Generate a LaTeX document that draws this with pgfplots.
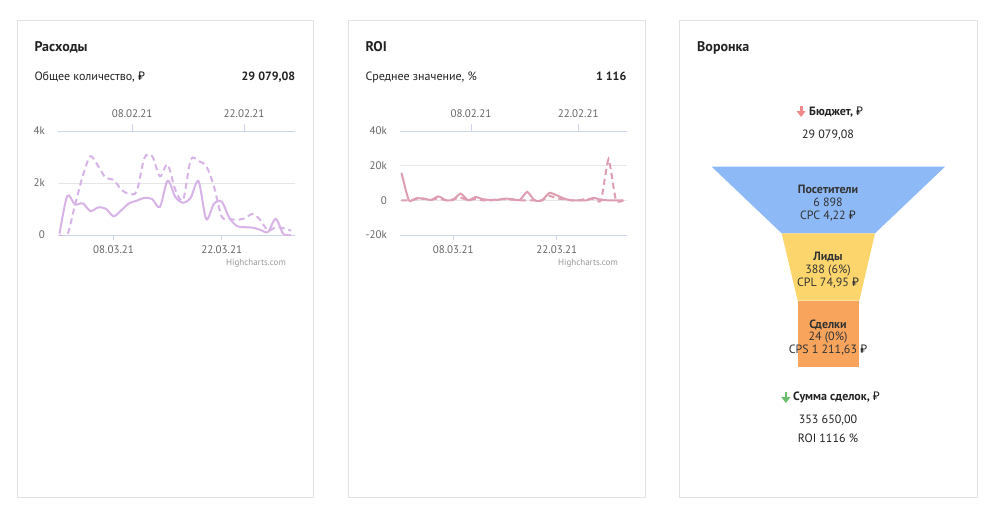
\documentclass[border=0pt]{standalone}
\usepackage{pgfplots}
\usepackage{pgfplotstable}
\pgfplotsset{compat=1.18}
\usepackage{fontspec}
\setmainfont{PT Sans}
\newfontfamily\rubfont{Noto Sans}
\newcommand{\rub}{{\rubfont ₽}}
\newcommand{\fs}[1]{\fontsize{#1}{#1}\selectfont}
\definecolor{cardborder}{HTML}{E3E3E3}
\definecolor{gridc}{HTML}{E6E6E6}
\definecolor{axisc}{HTML}{CCD6EB}
\definecolor{tickc}{HTML}{666666}
\definecolor{credc}{HTML}{999999}
\definecolor{lilac}{HTML}{D7B3E7}
\definecolor{roic}{HTML}{DE9DB0}
\definecolor{fblue}{HTML}{8DB9F7}
\definecolor{fyellow}{HTML}{FCD56C}
\definecolor{forange}{HTML}{F8A45C}
\definecolor{txt}{HTML}{222222}
\definecolor{ftxt}{HTML}{333333}
\definecolor{arrred}{HTML}{F08A8A}
\definecolor{arrgreen}{HTML}{6BBE6B}

% Расходы: текущий период (март) и предыдущий (февраль)
\pgfplotstableread{
d cur prev
0 50 0
1 1500 0
2 1170 1150
3 1220 2260
4 920 3030
5 1060 2650
6 1010 2190
7 720 2130
8 950 1740
9 1220 1590
10 1320 1680
11 1430 2970
12 1380 3030
13 1080 2260
14 2090 2710
15 1460 1740
16 1240 1350
17 1440 2900
18 2070 2840
19 610 2650
20 1200 1870
21 1280 710
22 660 620
23 340 580
24 300 645
25 285 810
26 200 580
27 115 170
28 620 300
29 40 260
30 0 170
}\spendtab

% ROI: текущий и предыдущий период
\pgfplotstableread{
d cur prev
0 15900 0
1 0 0
2 1200 600
3 1000 900
4 200 300
5 2300 1200
6 100 0
7 300 600
8 3900 1500
9 0 0
10 1900 800
11 700 0
12 200 0
13 300 500
14 1000 700
15 700 400
16 200 0
17 4850 0
18 0 0
19 0 0
20 4300 2500
21 2900 1200
22 1000 600
23 0 0
24 0 0
25 0 900
26 1400 700
27 300 0
28 0 23700
29 0 0
30 0 0
}\roitab

\pgfplotsset{
  cardbase/.style={scale only axis, anchor=south west, height=104pt,
    xmin=-0.2, xmax=30.5,
    tick label style={font=\fs{11}, text=tickc},
    scaled y ticks=false,
    tick align=outside},
  bottomax/.style={cardbase,
    axis x line*=bottom, axis y line*=left,
    y axis line style={draw=none},
    x axis line style={draw=axisc, line width=0.8pt},
    xtick={7,21}, xticklabels={08.03.21,22.03.21},
    xtick style={draw=axisc, line width=0.8pt},
    ytick style={draw=none},
    xmajorgrids=false, ymajorgrids,
    grid style={draw=gridc, line width=0.8pt},
    major tick length=5pt,
    yticklabel style={anchor=east, inner sep=0pt, xshift=-8pt},
    xticklabel style={anchor=north, inner sep=0pt, yshift=-5.5pt}},
  topax/.style={cardbase,
    axis x line*=top, axis y line=none, ytick=\empty,
    x axis line style={draw=axisc, line width=0.8pt},
    xtick={9.4,23.9}, xticklabels={08.02.21,22.02.21},
    xtick style={draw=axisc, line width=0.8pt},
    major tick length=7pt,
    xticklabel style={anchor=south, inner sep=0pt, yshift=6.5pt}},
}

\begin{document}
\begin{tikzpicture}
\begin{scope}[x=1pt,y=-1pt]
\fill[white] (0,0) rectangle (995,519);
\draw[cardborder, line width=1pt] (17,21) rectangle (313,497);
\draw[cardborder, line width=1pt] (348,21) rectangle (645,497);
\draw[cardborder, line width=1pt] (679,21) rectangle (977,497);
\end{scope}

% ---------- Расходы ----------
\begin{axis}[bottomax, at={(58pt,-235pt)}, width=237pt,
  ymin=0, ymax=4000, ytick={0,2000,4000}, yticklabels={0,2k,4k}]
\addplot[lilac, line width=2pt, smooth] table[x=d, y=cur] {\spendtab};
\end{axis}
\begin{axis}[topax, at={(58pt,-235pt)}, width=237pt, ymin=0, ymax=4000]
\addplot[lilac, line width=2pt, smooth, dash pattern=on 6pt off 4pt] table[x=d, y=prev] {\spendtab};
\end{axis}

% ---------- ROI ----------
\begin{axis}[bottomax, at={(400pt,-235pt)}, width=227pt,
  ymin=-20000, ymax=40000, ytick={-20000,0,20000,40000}, yticklabels={-20k,0,20k,40k}]
\addplot[roic, line width=2pt, smooth, tension=0.35] table[x=d, y=cur] {\roitab};
\end{axis}
\begin{axis}[topax, at={(400pt,-235pt)}, width=227pt, ymin=-20000, ymax=40000]
\addplot[roic, line width=2pt, smooth, tension=0.3, dash pattern=on 6pt off 4pt] table[x=d, y=prev] {\roitab};
\end{axis}

% ---------- Воронка ----------
\begin{axis}[at={(679pt,-497pt)}, anchor=south west, scale only axis,
  width=298pt, height=476pt, xmin=679, xmax=977, ymin=21, ymax=497,
  y dir=reverse, hide axis, clip=false]
\addplot[fill=fblue, draw=none] coordinates {(711.7,166.7) (945,166.7) (875,233.3) (781.7,233.3)} -- cycle;
\addplot[fill=fyellow, draw=none] coordinates {(781.7,233.3) (875,233.3) (859.3,300.7) (797.7,300.7)} -- cycle;
\addplot[fill=forange, draw=none] coordinates {(797.7,300.7) (859.3,300.7) (859.3,367.3) (797.7,367.3)} -- cycle;
\end{axis}

\begin{scope}[x=1pt,y=-1pt]
% titles
\node[anchor=base west, inner sep=0, font=\fs{14}\bfseries, text=txt] at (34.3,51.7) {Расходы};
\node[anchor=base west, inner sep=0, font=\fs{14}\bfseries, text=txt] at (365.3,51.7) {ROI};
\node[anchor=base west, inner sep=0, font=\fs{14}\bfseries, text=txt] at (697,51.7) {Воронка};
% subtitles
\node[anchor=base west, inner sep=0, font=\fs{12}, text=txt] at (34.3,80) {Общее количество, \rub};
\node[anchor=base east, inner sep=0, font=\fs{12}\bfseries, text=txt] at (295.5,80) {29 079,08};
\node[anchor=base west, inner sep=0, font=\fs{12}, text=txt] at (365.3,80) {Среднее значение, \%};
\node[anchor=base east, inner sep=0, font=\fs{12}\bfseries, text=txt] at (626.5,80) {1 116};
% credits
\node[anchor=base east, inner sep=0, font=\fs{9}, text=credc] at (286,265.7) {Highcharts.com};
\node[anchor=base east, inner sep=0, font=\fs{9}, text=credc] at (618,265.7) {Highcharts.com};
% funnel header
\fill[arrred] (799.7,105.5) rectangle (802.5,112);
\fill[arrred] (796.5,111) -- (805.7,111) -- (801.1,117) -- cycle;
\node[anchor=base west, inner sep=0, font=\fs{12}\bfseries, text=txt] at (809,115) {Бюджет, \rub};
\node[anchor=base, inner sep=0, font=\fs{12}, text=txt] at (828,138.2) {29 079,08};
% funnel labels
\node[anchor=base, inner sep=0, font=\fs{12}\bfseries, text=ftxt] at (828,193.5) {Посетители};
\node[anchor=base, inner sep=0, font=\fs{12}, text=ftxt] at (828,206.9) {6 898};
\node[anchor=base, inner sep=0, font=\fs{12}, text=ftxt] at (828,219.2) {CPC 4,22 \rub};
\node[anchor=base, inner sep=0, font=\fs{12}\bfseries, text=ftxt] at (828,260.9) {Лиды};
\node[anchor=base, inner sep=0, font=\fs{12}, text=ftxt] at (828,273.5) {388 (6\%)};
\node[anchor=base, inner sep=0, font=\fs{12}, text=ftxt] at (828,286.9) {CPL 74,95 \rub};
\node[anchor=base, inner sep=0, font=\fs{12}\bfseries, text=ftxt] at (828,328.2) {Сделки};
\node[anchor=base, inner sep=0, font=\fs{12}, text=ftxt] at (828,340.2) {24 (0\%)};
\node[anchor=base, inner sep=0, font=\fs{12}, text=ftxt] at (828,353.5) {CPS 1 211,63 \rub};
% funnel footer
\fill[arrgreen] (784.5,391.5) rectangle (787.3,398);
\fill[arrgreen] (781.3,397) -- (790.5,397) -- (785.9,403) -- cycle;
\node[anchor=base west, inner sep=0, font=\fs{12}\bfseries, text=txt] at (793,400.9) {Сумма сделок, \rub};
\node[anchor=base, inner sep=0, font=\fs{12}, text=txt] at (828,423.5) {353 650,00};
\node[anchor=base, inner sep=0, font=\fs{12}, text=txt] at (828,442.5) {ROI 1116 \%};
\end{scope}
\end{tikzpicture}
\end{document}
